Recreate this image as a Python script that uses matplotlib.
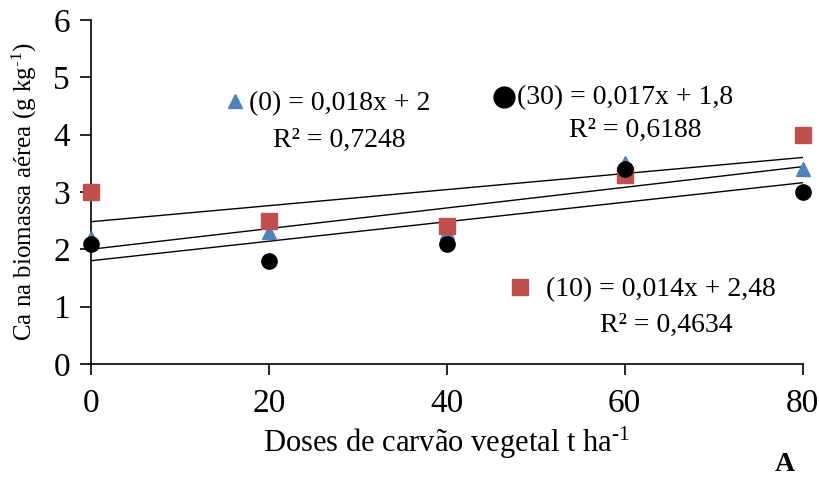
import matplotlib.pyplot as plt
import numpy as np

plt.rcParams['font.family'] = ['Liberation Serif', 'DejaVu Serif']
plt.rcParams['mathtext.fontset'] = 'custom'
plt.rcParams['mathtext.rm'] = 'Liberation Serif'
plt.rcParams['mathtext.it'] = 'Liberation Serif:italic'

doses = [0, 20, 40, 60, 80]            # doses de carvao (t/ha)
ca_0 = [2.2, 2.3, 2.3, 3.5, 3.4]       # (0)
ca_10 = [3.0, 2.5, 2.4, 3.3, 4.0]      # (10)
ca_30 = [2.1, 1.8, 2.1, 3.4, 3.0]      # (30)

# trend line coefficients (slope, intercept)
fit_0 = (0.018, 2.0)
fit_10 = (0.014, 2.48)
fit_30 = (0.017, 1.8)

blue = '#4F81BD'
red = '#C0504D'

fig = plt.figure(figsize=(8.19, 4.84), dpi=100)
ax = fig.add_axes([0.111, 0.248, 0.869, 0.711])

xx = np.array([0, 80])
for a, b in (fit_0, fit_10, fit_30):
    ax.plot(xx, a * xx + b, color='black', lw=1, zorder=2)

ax.plot(doses, ca_0, '^', color=blue, ms=10, zorder=3, clip_on=False)
ax.plot(doses, ca_10, 's', color=red, ms=11, zorder=4, clip_on=False)
ax.plot(doses, ca_30, 'o', color='black', ms=11, zorder=5, clip_on=False)

ax.set_xlim(0, 80)
ax.set_ylim(0, 6)
ax.set_xticks([0, 20, 40, 60, 80])
ax.set_yticks(range(7))
ax.spines['top'].set_visible(False)
ax.spines['right'].set_visible(False)
ax.spines['left'].set_linewidth(1.2)
ax.spines['bottom'].set_linewidth(1.2)
ax.tick_params(axis='both', direction='out', length=8, width=1.2, labelsize=24)
ax.tick_params(axis='y', pad=7)
ax.tick_params(axis='x', pad=10)

ax.set_xlabel('Doses de carvão vegetal t ha$^{\\text{-1}}$', fontsize=22, labelpad=4)
ax.set_ylabel('Ca na biomassa aérea (g kg$^{\\text{-1}}$)', fontsize=18, labelpad=10)

# equation labels with markers
tr = ax.transAxes
ax.plot(0.202, 0.765, '^', color=blue, ms=10, transform=tr, clip_on=False)
ax.text(0.222, 0.757, '(0) = 0,018x + 2', fontsize=20, va='center', transform=tr)
ax.text(0.349, 0.650, 'R² = 0,7248', fontsize=20, va='center', ha='center', transform=tr)

ax.plot(0.581, 0.776, 'o', color='black', ms=15, transform=tr, clip_on=False)
ax.text(0.599, 0.773, '(30) = 0,017x + 1,8', fontsize=20, va='center', transform=tr)
ax.text(0.765, 0.680, 'R² = 0,6188', fontsize=20, va='center', ha='center', transform=tr)

ax.plot(0.603, 0.224, 's', color=red, ms=12, transform=tr, clip_on=False)
ax.text(0.640, 0.215, '(10) = 0,014x + 2,48', fontsize=20, va='center', transform=tr)
ax.text(0.808, 0.113, 'R² = 0,4634', fontsize=20, va='center', ha='center', transform=tr)

fig.text(0.958, 0.04, 'A', fontsize=20, fontweight='bold', ha='center', va='center')

plt.savefig('out.png', dpi=100)
